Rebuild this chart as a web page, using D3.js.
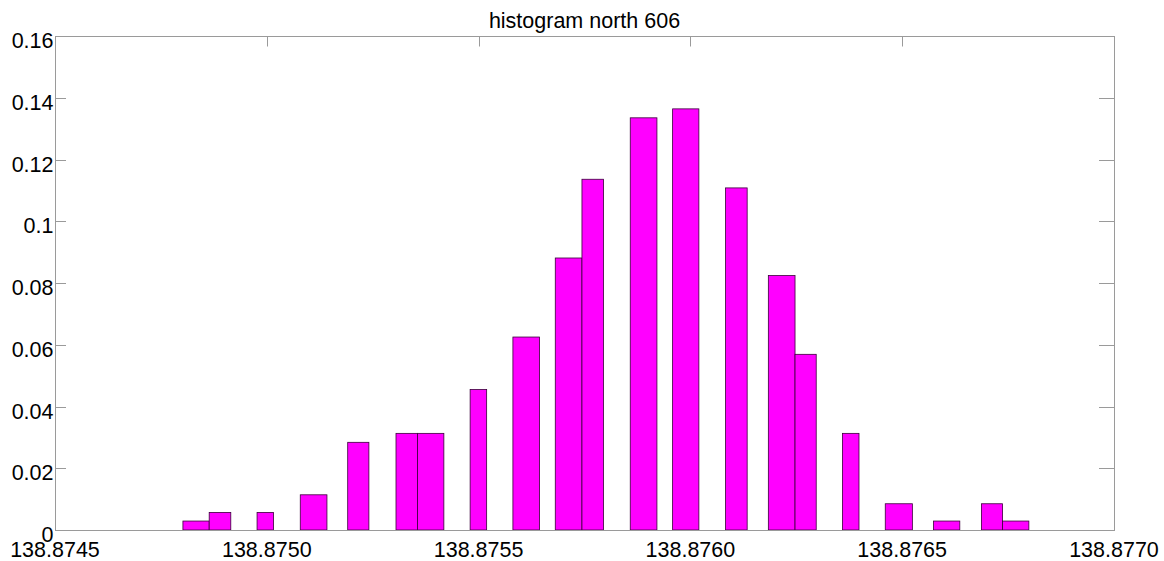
<!DOCTYPE html>
<html>
<head>
<meta charset="utf-8">
<script src="https://cdn.jsdelivr.net/npm/d3@7"></script>
<style>
  html, body { margin: 0; padding: 0; background: #fff; }
  svg { display: block; font-family: "Liberation Sans", Arial, Helvetica, sans-serif; }
</style>
</head>
<body>
<svg id="chart" width="1164" height="561"></svg>
<script>
// Histogram bins: left edge, right edge, relative frequency
const binStart = [138.874802, 138.874864, 138.874977, 138.875079, 138.875191,
                  138.875305, 138.875356, 138.875480, 138.875581, 138.875681,
                  138.875744, 138.875858, 138.875958, 138.876083, 138.876184,
                  138.876247, 138.876359, 138.876460, 138.876574, 138.876687,
                  138.876737];
const binEnd   = [138.874864, 138.874915, 138.875016, 138.875142, 138.875241,
                  138.875356, 138.875418, 138.875519, 138.875644, 138.875744,
                  138.875795, 138.875921, 138.876020, 138.876134, 138.876247,
                  138.876297, 138.876398, 138.876524, 138.876636, 138.876737,
                  138.876799];
const freq     = [0.0029, 0.0057, 0.0057, 0.0114, 0.0284,
                  0.0313, 0.0313, 0.0455, 0.0625, 0.0881,
                  0.1136, 0.1335, 0.1364, 0.1108, 0.0824,
                  0.0569, 0.0313, 0.0085, 0.0029, 0.0085,
                  0.0029];

const xTicks = [138.8745, 138.8750, 138.8755, 138.8760, 138.8765, 138.8770];
const xTickLabels = ["138.8745", "138.8750", "138.8755", "138.8760", "138.8765", "138.8770"];
const yTicks = [0, 0.02, 0.04, 0.06, 0.08, 0.10, 0.12, 0.14, 0.16];
const yTickLabels = ["0", "0.02", "0.04", "0.06", "0.08", "0.1", "0.12", "0.14", "0.16"];
const title = "histogram north 606";

const svg = d3.select("#chart");
const plotLeft = 55, plotRight = 1114, plotTop = 36, plotBottom = 530;

const x = d3.scaleLinear().domain([xTicks[0], xTicks[xTicks.length - 1]]).range([plotLeft, plotRight]);
const y = d3.scaleLinear().domain([0, 0.16]).range([plotBottom, plotTop]);

const bins = freq.map((v, i) => ({ x0: binStart[i], x1: binEnd[i], v }));

// bars
svg.append("g")
  .selectAll("rect")
  .data(bins)
  .join("rect")
  .attr("x", d => x(d.x0))
  .attr("width", d => x(d.x1) - x(d.x0))
  .attr("y", d => y(d.v))
  .attr("height", d => y(0) - y(d.v))
  .attr("fill", "#ff00ff")
  .attr("stroke", "#3a003a")
  .attr("stroke-width", 0.8);

const axisColor = "#9a9a9a";
const frame = svg.append("g").attr("stroke", axisColor).attr("stroke-width", 1).attr("fill", "none");
frame.append("rect")
  .attr("x", plotLeft + 0.5).attr("y", plotTop + 0.5)
  .attr("width", plotRight - plotLeft).attr("height", plotBottom - plotTop);

// y ticks, inward on both sides
yTicks.forEach(t => {
  const yy = Math.round(y(t)) + 0.5;
  frame.append("line").attr("x1", plotLeft).attr("x2", plotLeft + 11).attr("y1", yy).attr("y2", yy);
  frame.append("line").attr("x1", plotRight - 15).attr("x2", plotRight).attr("y1", yy).attr("y2", yy);
});
// x ticks, inward from the top
xTicks.forEach(t => {
  const xx = Math.round(x(t)) + 0.5;
  frame.append("line").attr("x1", xx).attr("x2", xx).attr("y1", plotTop).attr("y2", plotTop + 10.5);
});

// y tick labels
svg.append("g")
  .selectAll("text")
  .data(yTicks)
  .join("text")
  .attr("x", plotLeft - 1.5)
  .attr("y", d => y(d) + 12)
  .attr("text-anchor", "end")
  .attr("font-size", 21.5)
  .attr("fill", "#000")
  .text((d, i) => yTickLabels[i]);

// x tick labels
svg.append("g")
  .selectAll("text")
  .data(xTicks)
  .join("text")
  .attr("x", d => x(d))
  .attr("y", 556.5)
  .attr("text-anchor", "middle")
  .attr("font-size", 21.5)
  .attr("fill", "#000")
  .text((d, i) => xTickLabels[i]);

// title
svg.append("text")
  .attr("x", (plotLeft + plotRight) / 2)
  .attr("y", 28)
  .attr("text-anchor", "middle")
  .attr("font-size", 21.5)
  .attr("fill", "#000")
  .text(title);
</script>
</body>
</html>
